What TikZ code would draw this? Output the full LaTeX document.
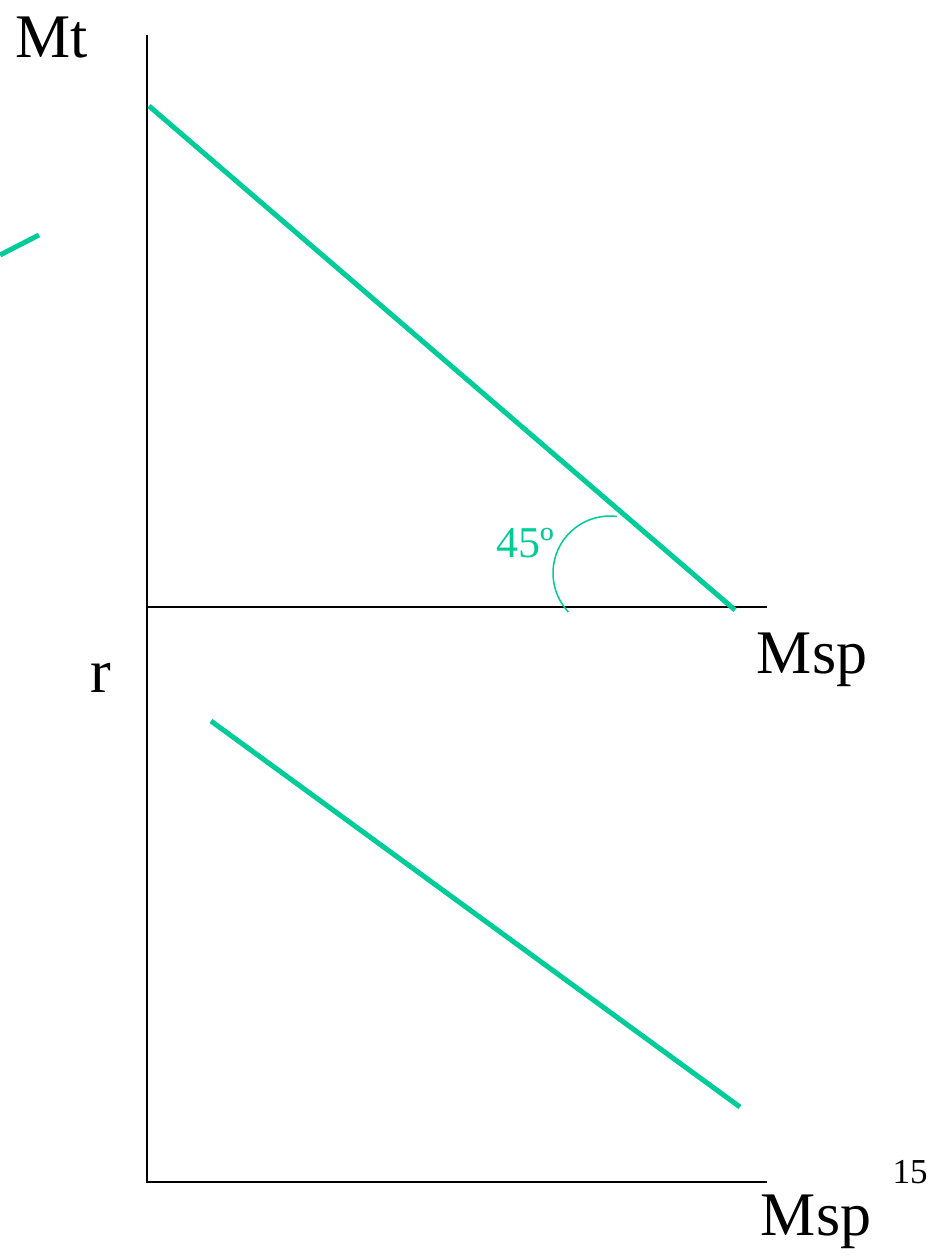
\documentclass[tikz,border=0pt]{standalone}
\usepackage{fontspec}
\setmainfont{Liberation Serif}
\definecolor{grn}{RGB}{0,204,153}
\begin{document}
\begin{tikzpicture}[x=1pt,y=-1pt,
  axis/.style={black,line width=1.6pt},
  curve/.style={grn,line width=5pt},
  lbl/.style={inner sep=0pt,text=black}]
\useasboundingbox (0,0) rectangle (948,1260);
% axes
\coordinate (top) at (147,35);
\coordinate (orig) at (147,1182);
\coordinate (mid) at (147,607);
\coordinate (midR) at (767,607);
\coordinate (botR) at (767,1182);
\draw[axis] (top) -- (orig) -- (botR);
\draw[axis] (mid) -- (midR);
% green lines
\coordinate (a1) at (149,106);
\coordinate (a2) at (735,610);
\draw[curve] (a1) -- (a2);
\coordinate (b1) at (0,255);
\coordinate (b2) at (39,235);
\draw[curve] (b1) -- (b2);
\coordinate (c1) at (211,721);
\coordinate (c2) at (740,1107);
\draw[curve] (c1) -- (c2);
% angle arc
\coordinate (ac) at (610,573);
\draw[grn,line width=1.5pt] ([shift={(83:57pt)}]ac) arc[start angle=83, end angle=223, radius=57pt];
\node[lbl,text=grn,font=\fontsize{44}{44}\selectfont] (ang) at (525,543) {45º};
% labels
\node[lbl,font=\fontsize{62}{62}\selectfont] (mt) at (52,38) {Mt};
\node[lbl,font=\fontsize{62}{62}\selectfont] (msp1) at (812,660) {Msp};
\node[lbl,font=\fontsize{62}{62}\selectfont] (r) at (101,678) {r};
\node[lbl,font=\fontsize{62}{62}\selectfont] (msp2) at (816,1222) {Msp};
\node[lbl,font=\fontsize{35}{35}\selectfont] (pg) at (910,1172) {15};
\end{tikzpicture}
\end{document}
